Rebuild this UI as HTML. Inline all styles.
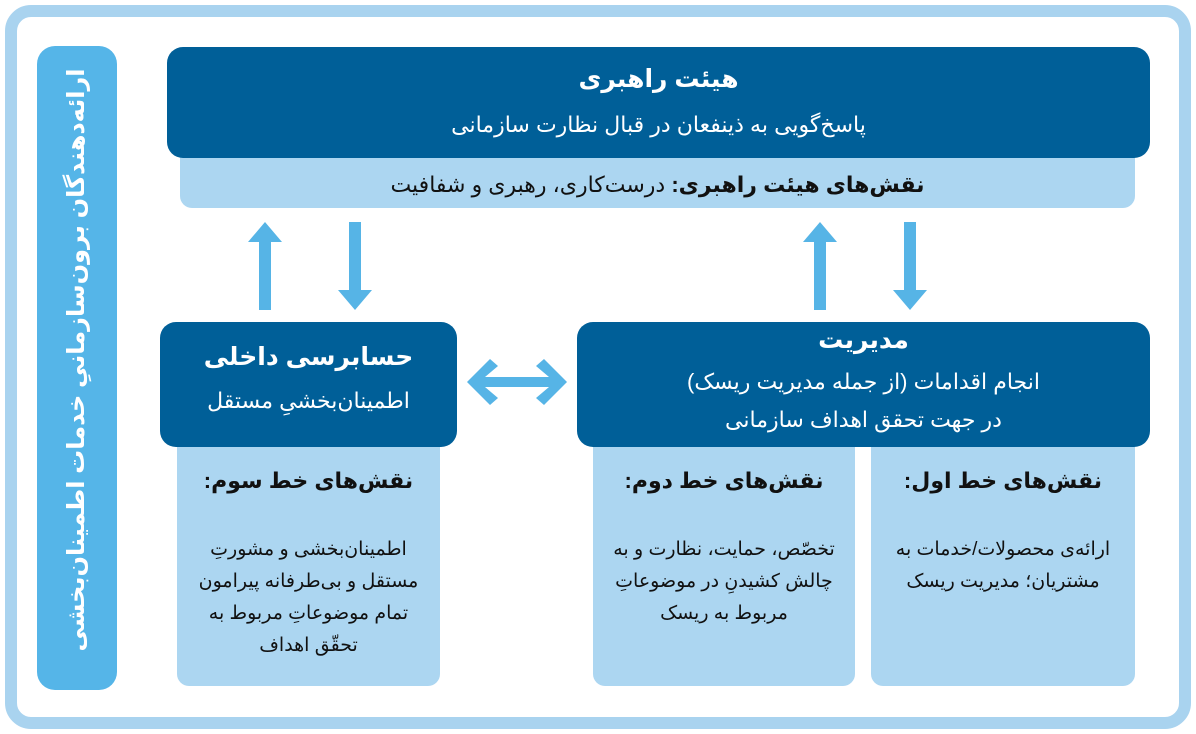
<!DOCTYPE html>
<html><head><meta charset="utf-8"><style>
body{margin:0;width:1196px;height:734px;background:#fff;position:relative;overflow:hidden;font-family:"Liberation Sans","DejaVu Sans",sans-serif;direction:rtl}
.a{position:absolute;box-sizing:border-box}
.dk{background:#005f98;color:#fff;border-radius:16px;text-align:center}
.lt{background:#acd6f1;color:#111;text-align:center}
.t{font-weight:bold;font-size:25px;line-height:30px}
.s{font-size:22px;line-height:30px}
.b{font-size:19px;line-height:32px;margin-top:38px}
</style></head><body>
<div class="a" style="left:5px;top:5px;width:1186px;height:724px;border:12px solid #a9d3ef;border-radius:26px"></div>
<div class="a" style="left:37px;top:46px;width:80px;height:644px;background:#55b5e8;border-radius:18px"></div>
<div class="a" style="left:77px;top:360px;width:640px;height:40px;margin-left:-320px;margin-top:-20px;transform:rotate(-90deg);color:#fff;font-weight:bold;font-size:24px;text-align:center;line-height:40px;white-space:nowrap">ارائه‌دهندگان برون‌سازمانیِ خدمات اطمینان‌بخشی</div>

<div class="a lt" style="left:180px;top:140px;width:955px;height:68px;border-radius:0 0 12px 12px;padding-top:30px;font-size:22px;line-height:30px"><b>نقش‌های هیئت راهبری:</b> درست‌کاری، رهبری و شفافیت</div>
<div class="a dk" style="left:167px;top:47px;width:983px;height:111px;padding-top:17px"><div class="t">هیئت راهبری</div><div class="s" style="margin-top:16px">پاسخ‌گویی به ذینفعان در قبال نظارت سازمانی</div></div>

<svg class="a" style="left:0;top:0" width="1196" height="734">
<g fill="#56b4e6">
<polygon points="265,222 248,242 259,242 259,310 271,310 271,242 282,242"/>
<polygon points="355,310 338,290 349,290 349,222 361,222 361,290 372,290"/>
<polygon points="820,222 803,242 814,242 814,310 826,310 826,242 837,242"/>
<polygon points="910,310 893,290 904,290 904,222 916,222 916,290 927,290"/>
<polygon points="467,382 490,359 498,366 485,377 549,377 536,366 544,359 567,382 544,405 536,398 549,387 485,387 498,398 490,405"/>
</g></svg>

<div class="a lt" style="left:177px;top:440px;width:263px;height:246px;border-radius:0 0 12px 12px;padding-top:26px"><div style="font-weight:bold;font-size:22px;line-height:30px">نقش‌های خط سوم:</div><div class="b">اطمینان‌بخشی و مشورتِ<br>مستقل و بی‌طرفانه پیرامون<br>تمام موضوعاتِ مربوط به<br>تحقّق اهداف</div></div>
<div class="a lt" style="left:593px;top:440px;width:262px;height:246px;border-radius:0 0 12px 12px;padding-top:26px"><div style="font-weight:bold;font-size:22px;line-height:30px">نقش‌های خط دوم:</div><div class="b">تخصّص، حمایت، نظارت و به<br>چالش کشیدنِ در موضوعاتِ<br>مربوط به ریسک</div></div>
<div class="a lt" style="left:871px;top:440px;width:264px;height:246px;border-radius:0 0 12px 12px;padding-top:26px"><div style="font-weight:bold;font-size:22px;line-height:30px">نقش‌های خط اول:</div><div class="b">ارائه‌ی محصولات/خدمات به<br>مشتریان؛ مدیریت ریسک</div></div>

<div class="a dk" style="left:160px;top:322px;width:297px;height:125px;padding-top:20px"><div class="t">حسابرسی داخلی</div><div class="s" style="margin-top:14px">اطمینان‌بخشیِ مستقل</div></div>
<div class="a dk" style="left:577px;top:322px;width:573px;height:125px;padding-top:3px"><div class="t">مدیریت</div><div class="s" style="line-height:38px;margin-top:8px">انجام اقدامات (از جمله مدیریت ریسک)<br>در جهت تحقق اهداف سازمانی</div></div>
</body></html>
